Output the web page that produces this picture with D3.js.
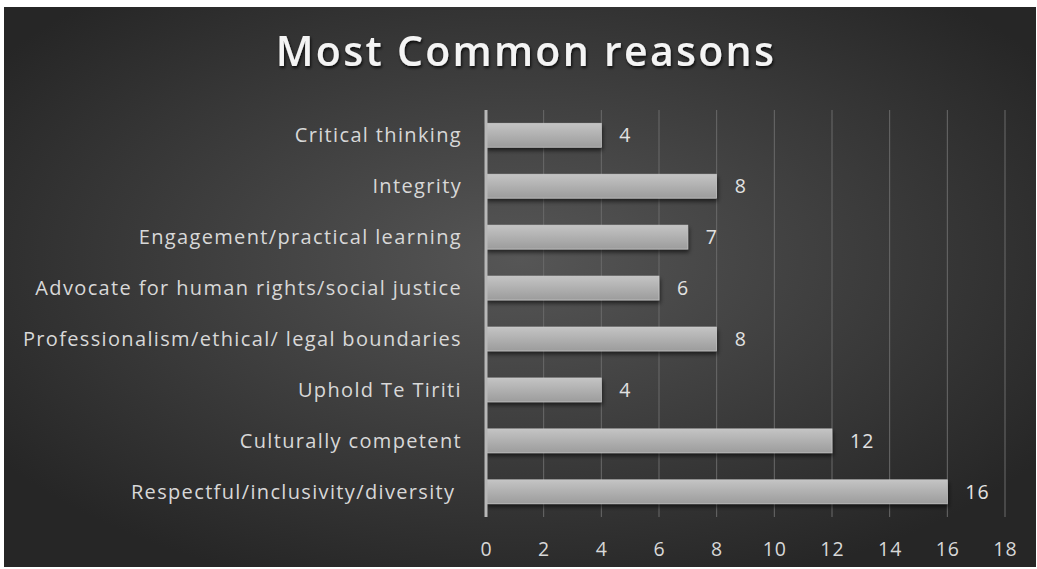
<!DOCTYPE html>
<html lang="en">
<head>
    <meta charset="UTF-8">
    <title>Most Common reasons</title>
    <script src="https://d3js.org/d3.v7.min.js"></script>
    <style>
        body { margin: 0; background: #fff; }
        text { font-family: "Open Sans", "Noto Sans", sans-serif; }
    </style>
</head>
<body>
    <svg id="chart" width="1037" height="569"></svg>

    <script>
        // Chart data, top to bottom
        var categories = [
            "Critical thinking",
            "Integrity",
            "Engagement/practical learning",
            "Advocate for human rights/social justice",
            "Professionalism/ethical/ legal boundaries",
            "Uphold Te Tiriti",
            "Culturally competent",
            "Respectful/inclusivity/diversity\u00a0"
        ];
        var values = [4, 8, 7, 6, 8, 4, 12, 16];
        var xTicks = [0, 2, 4, 6, 8, 10, 12, 14, 16, 18];

        var svg = d3.select("#chart");

        // Background with radial gradient
        var defs = svg.append("defs");
        var bg = defs.append("radialGradient")
            .attr("id", "bgGrad")
            .attr("cx", "50%").attr("cy", "45%").attr("r", "62%");
        bg.append("stop").attr("offset", "0%").attr("stop-color", "#565656");
        bg.append("stop").attr("offset", "100%").attr("stop-color", "#262626");

        var barGrad = defs.append("linearGradient")
            .attr("id", "barGrad")
            .attr("x1", 0).attr("y1", 0).attr("x2", 0).attr("y2", 1);
        barGrad.append("stop").attr("offset", "0%").attr("stop-color", "#c4c4c4");
        barGrad.append("stop").attr("offset", "100%").attr("stop-color", "#9c9c9c");

        var shadow = defs.append("filter").attr("id", "shadow")
            .attr("x", "-10%").attr("y", "-30%").attr("width", "120%").attr("height", "190%");
        shadow.append("feDropShadow")
            .attr("dx", 1).attr("dy", 3).attr("stdDeviation", 2)
            .attr("flood-color", "#000").attr("flood-opacity", 0.6);

        var titleShadow = defs.append("filter").attr("id", "tshadow")
            .attr("x", "-5%").attr("y", "-20%").attr("width", "110%").attr("height", "150%");
        titleShadow.append("feDropShadow")
            .attr("dx", 1).attr("dy", 2).attr("stdDeviation", 1.5)
            .attr("flood-color", "#000").attr("flood-opacity", 0.8);

        svg.append("rect")
            .attr("x", 4).attr("y", 7)
            .attr("width", 1032).attr("height", 560)
            .attr("fill", "url(#bgGrad)");

        // Title
        svg.append("text")
            .attr("x", 526).attr("y", 66)
            .attr("text-anchor", "middle")
            .attr("fill", "#f4f4f4")
            .attr("font-size", 41)
            .attr("font-weight", 600)
            .attr("letter-spacing", 2.3)
            .attr("filter", "url(#tshadow)")
            .text("Most Common reasons");

        // Scales
        var x = d3.scaleLinear().domain([0, 18]).range([486, 1005]);
        var y = d3.scaleBand().domain(categories).range([110, 517]).paddingInner(0.53).paddingOuter(0.26);

        // Gridlines
        svg.append("g")
            .selectAll("line")
            .data(xTicks.slice(1))
            .enter().append("line")
            .attr("x1", d => x(d)).attr("x2", d => x(d))
            .attr("y1", 110).attr("y2", 517)
            .attr("stroke", "#6a6a6a")
            .attr("stroke-width", 1);

        // Bars
        svg.append("g")
            .selectAll("rect")
            .data(values)
            .enter().append("rect")
            .attr("x", x(0))
            .attr("y", (d, i) => y(categories[i]))
            .attr("width", d => x(d) - x(0))
            .attr("height", y.bandwidth())
            .attr("fill", "url(#barGrad)")
            .attr("stroke", "#d0d0d0")
            .attr("stroke-width", 0.6)
            .attr("filter", "url(#shadow)");

        // Value labels
        svg.append("g")
            .selectAll("text")
            .data(values)
            .enter().append("text")
            .attr("x", d => x(d) + 18)
            .attr("y", (d, i) => y(categories[i]) + y.bandwidth() / 2)
            .attr("dy", "0.36em")
            .attr("fill", "#e2e2e2")
            .attr("font-size", 19.5)
            .attr("letter-spacing", 1)
            .text(d => d);

        // Vertical axis line
        svg.append("line")
            .attr("x1", x(0)).attr("x2", x(0))
            .attr("y1", 110).attr("y2", 517)
            .attr("stroke", "#b8b8b8")
            .attr("stroke-width", 3);

        // Category labels
        var yAxis = svg.append("g")
            .attr("transform", "translate(" + (x(0) - 24) + ",0)")
            .call(d3.axisLeft(y).tickSize(0).tickPadding(0));
        yAxis.select(".domain").remove();
        yAxis.selectAll("text")
            .attr("fill", "#d8d8d8")
            .attr("font-size", 20)
            .attr("letter-spacing", 1.35)
            .attr("font-family", "\"Open Sans\", \"Noto Sans\", sans-serif")
            .attr("dy", "0.36em");

        // X axis labels
        var xAxis = svg.append("g")
            .attr("transform", "translate(0,556)")
            .call(d3.axisBottom(x).tickValues(xTicks).tickSize(0).tickPadding(0));
        xAxis.select(".domain").remove();
        xAxis.selectAll("text")
            .attr("fill", "#d8d8d8")
            .attr("font-size", 19.5)
            .attr("letter-spacing", 1)
            .attr("font-family", "\"Open Sans\", \"Noto Sans\", sans-serif")
            .attr("dy", "0");
    </script>
</body>
</html>
